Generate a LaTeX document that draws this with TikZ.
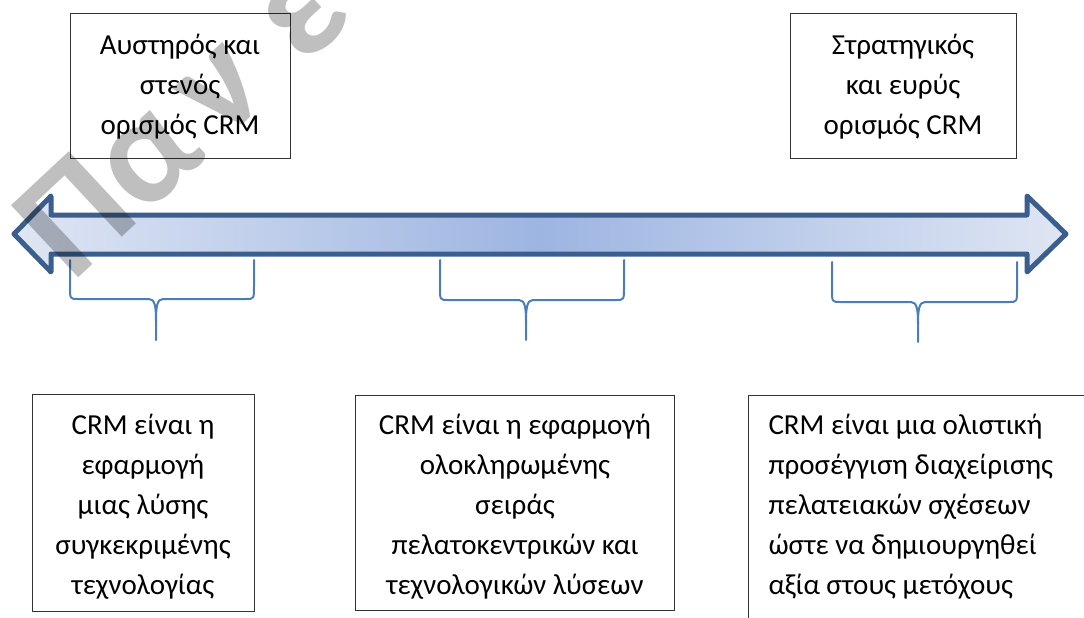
\documentclass[tikz,border=0pt]{standalone}
\usepackage{fontspec}
\setmainfont{Carlito}
\definecolor{arrowline}{HTML}{3B5E8C}
\definecolor{arrowend}{HTML}{DFE6F3}
\definecolor{arrowmid}{HTML}{9DB5E2}
\definecolor{bracecol}{HTML}{4A7EBB}
\tikzset{
  box/.style={draw=black!80, line width=1pt, inner sep=0pt, align=center,
    font=\fontsize{29}{40}\selectfont},
  bracestyle/.style={draw=bracecol, line width=2pt, line cap=round, line join=round},
  wmark/.style={rotate=43, anchor=base, inner sep=0pt, text=black, text opacity=0.25,
    font=\fontsize{152}{152}\bfseries\selectfont},
}
\begin{document}
\begin{tikzpicture}[x=1pt,y=-1pt]
\useasboundingbox (0,0) rectangle (1084,618);
\begin{scope}
\clip (0,0) rectangle (1084,618);
% top boxes
\draw[box] (70,14) rectangle (290,158);
\node[box, draw=none] (tl) at (180,87) {Αυστηρός και\\στενός\\ορισμός CRM};
\draw[box] (790,14) rectangle (1016,158);
\node[box, draw=none] (tr) at (903,87) {Στρατηγικός\\και ευρύς\\ορισμός CRM};
% double arrow
\draw[line width=5pt, draw=arrowline, line join=round,
      left color=arrowend, right color=arrowend, middle color=arrowmid]
  (14,234) -- (51,196) -- (51,215) -- (1027,215) -- (1027,196) -- (1066,234)
  -- (1027,272) -- (1027,254) -- (51,254) -- (51,272) -- cycle;
% braces
\draw[bracestyle] (70,260) -- (70,286) .. controls (70,299) .. (78,299) -- (149,299)
  .. controls (155,299) and (156,307) .. (156,321) -- (156,340);
\draw[bracestyle] (254,260) -- (254,286) .. controls (254,299) .. (246,299) -- (163,299)
  .. controls (157,299) and (156,307) .. (156,321);
\draw[bracestyle] (440,260) -- (440,287) .. controls (440,300) .. (448,300) -- (519,300)
  .. controls (525,300) and (526,308) .. (526,322) -- (526,340);
\draw[bracestyle] (624,260) -- (624,287) .. controls (624,300) .. (616,300) -- (533,300)
  .. controls (527,300) and (526,308) .. (526,322);
\draw[bracestyle] (832,262) -- (832,289) .. controls (832,302) .. (840,302) -- (911,302)
  .. controls (917,302) and (918,310) .. (918,324) -- (918,342);
\draw[bracestyle] (1017,262) -- (1017,289) .. controls (1017,302) .. (1009,302) -- (925,302)
  .. controls (919,302) and (918,310) .. (918,324);
% bottom boxes
\draw[box] (32,394) rectangle (254,611);
\node[box, draw=none] (b1) at (143,507) {CRM είναι η\\εφαρμογή\\μιας λύσης\\συγκεκριμένης\\τεχνολογίας};
\draw[box] (355,395) rectangle (674,610);
\node[box, draw=none] (b2) at (515,507) {CRM είναι η εφαρμογή\\ολοκληρωμένης\\σειράς\\πελατοκεντρικών και\\τεχνολογικών λύσεων};
\draw[box] (748,395) rectangle (1110,650);
\node[box, draw=none, align=left, anchor=west] (b3) at (768,507) {CRM είναι μια ολιστική\\προσέγγιση διαχείρισης\\πελατειακών σχέσεων\\ώστε να δημιουργηθεί\\αξία στους μετόχους};
% watermark
\node[wmark] (w1) at (108,251) {Π};
\node[wmark] (w2) at (176,187) {α};
\node[wmark] (w3) at (249,119) {ν};
\node[wmark] (w4) at (330,44) {ε};
\node[wmark] (w5) at (407,-28) {π};
\end{scope}
\end{tikzpicture}
\end{document}
